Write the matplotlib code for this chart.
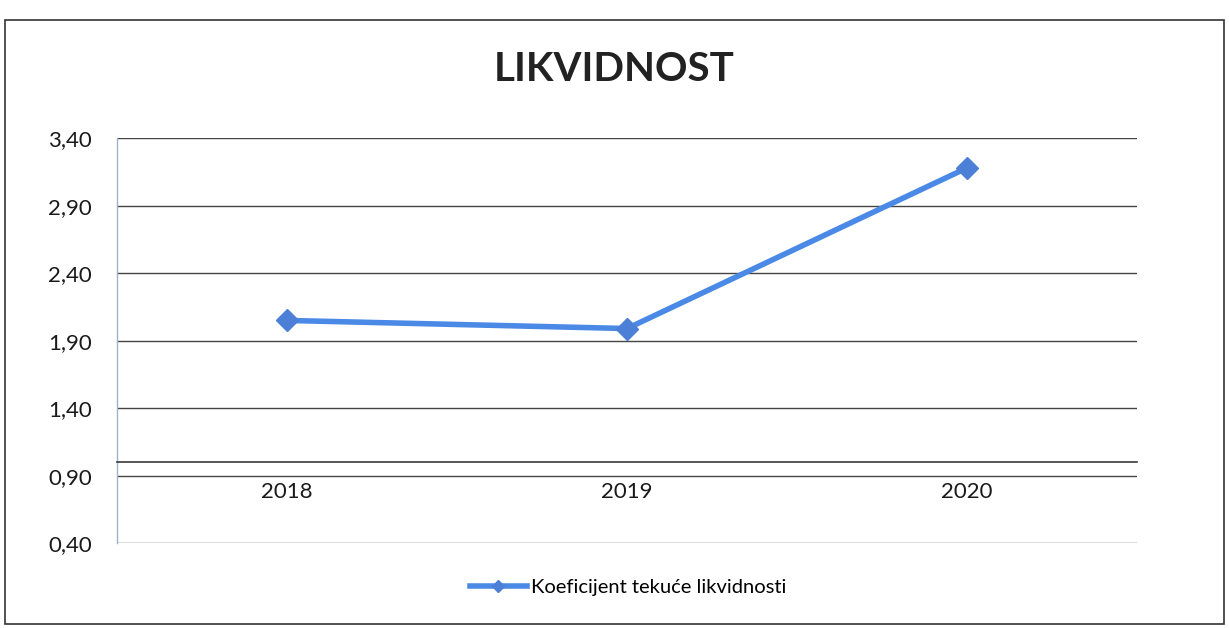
import matplotlib
matplotlib.use("Agg")
import matplotlib.pyplot as plt
from matplotlib.patches import Rectangle
from matplotlib.ticker import FuncFormatter

title = "LIKVIDNOST"
years = ["2018", "2019", "2020"]
values = [2.05, 1.99, 3.18]
series_name = "Koeficijent tekuće likvidnosti"
y_ticks = [0.40, 0.90, 1.40, 1.90, 2.40, 2.90, 3.40]

plt.rcParams['font.family'] = ['Lato', 'DejaVu Sans']

fig = plt.figure(figsize=(12.29, 6.28), dpi=100)
ax = fig.add_axes([0.0952, 0.135, 0.830, 0.645])

x = list(range(len(years)))
line_color = "#4A89E6"
ax.plot(x, values, color=line_color, lw=4, marker="D", ms=11,
        mfc="#4C80D6", mec="#4C80D6", label=series_name, zorder=3)

ax.set_xlim(-0.5, len(years) - 0.5)
ax.set_ylim(y_ticks[0], y_ticks[-1])
ax.set_yticks(y_ticks)
ax.yaxis.set_major_formatter(FuncFormatter(lambda v, p: f"{v:.2f}".replace(".", ",")))
ax.set_xticks(x)
ax.set_xticklabels(years)

ax.grid(axis="y", color="#444444", lw=1.0)
ax.set_axisbelow(True)
for s in ["top", "right"]:
    ax.spines[s].set_visible(False)
ax.spines["left"].set_color("#9fb3c8")
ax.spines["left"].set_linewidth(1.0)
ax.spines["bottom"].set_position(("data", 1.0))
ax.spines["bottom"].set_color("#3a3a3a")
ax.spines["bottom"].set_linewidth(1.2)
ax.tick_params(axis="both", length=0, labelsize=16, colors="#1a1a1a")
ax.tick_params(axis="y", pad=18)
ax.tick_params(axis="x", pad=14)

fig.text(0.5, 0.889, title, ha="center", va="center", fontsize=29,
         fontweight="bold", color="#222222")

fig.legend(loc="center", bbox_to_anchor=(0.511, 0.065), frameon=False,
           fontsize=14.5, handlelength=2.8, handletextpad=0.2,
           markerscale=0.55)

fig.patches.append(Rectangle((0.004, 0.006), 0.992, 0.962, transform=fig.transFigure,
                             fill=False, ec="#333333", lw=1.2))

fig.savefig("out.png", dpi=100)
